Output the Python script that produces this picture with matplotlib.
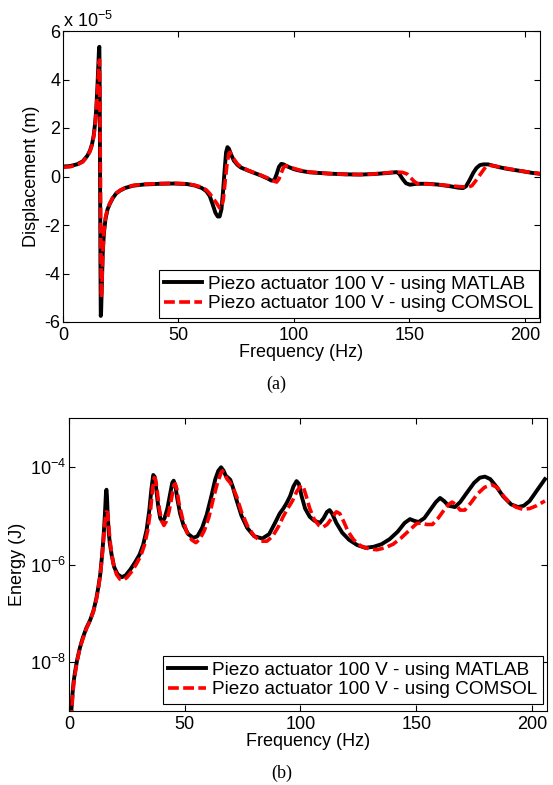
import numpy as np
import matplotlib
matplotlib.use('Agg')
import matplotlib.pyplot as plt
from matplotlib.ticker import FixedLocator, NullLocator

plt.rcParams['font.family'] = ['Liberation Sans', 'DejaVu Sans']
plt.rcParams['axes.unicode_minus'] = False
plt.rcParams['mathtext.default'] = 'regular'

# ---------------- data ----------------
# (a) displacement, in units of 1e-5 m
f_disp_matlab = [0, 3, 6, 8.5, 10.5, 11.7, 12.6, 13.3, 13.9, 14.4, 14.9, 15.3, 15.6, 15.75, 15.9,
                 16.05, 16.2, 16.35, 16.5, 16.8, 17.2, 17.7, 18.4, 19.3, 20.3, 21.5, 23, 24.7, 27,
                 30.3, 35, 42, 48, 53.6, 57, 60, 62, 63.5, 64.8, 66, 67, 67.8, 68.6, 69.3, 70.0,
                 70.6, 71.2, 71.8, 72.8, 74, 75.5, 77, 80, 83, 86, 88.5, 90.3, 91.5, 92.5, 93.5,
                 94.5, 95.5, 97, 100, 103, 107, 115, 122, 128.6, 134.3, 140, 144.4, 145.5, 147,
                 148.5, 150.2, 153, 157.4, 162, 167.5, 171, 173.2, 174.5, 176, 177.6, 179, 180.5,
                 182, 184, 186, 189, 192, 196, 200, 203, 206.5]
d_matlab = [0.41, 0.43, 0.5, 0.62, 0.85, 1.07, 1.35, 1.7, 2.2, 2.8, 3.7, 4.6, 5.3, 5.35, 3.5,
            0.0, -3.5, -5.75, -5.6, -4.5, -3.2, -2.35, -1.75, -1.35, -1.12, -0.9, -0.7, -0.58,
            -0.47, -0.38, -0.33, -0.3, -0.29, -0.31, -0.37, -0.47, -0.6, -0.8, -1.15, -1.5,
            -1.65, -1.65, -1.35, -0.6, 0.3, 1.0, 1.21, 1.15, 0.9, 0.65, 0.48, 0.37, 0.25, 0.14,
            0.03, -0.08, -0.17, -0.15, 0.1, 0.4, 0.52, 0.5, 0.42, 0.3, 0.23, 0.17, 0.12, 0.09,
            0.08, 0.1, 0.14, 0.18, 0.12, -0.1, -0.28, -0.34, -0.3, -0.3, -0.33, -0.4, -0.46,
            -0.48, -0.4, -0.15, 0.15, 0.35, 0.47, 0.5, 0.5, 0.45, 0.38, 0.32, 0.26, 0.2, 0.15,
            0.11]

f_disp_comsol = [0, 3, 6, 8.5, 10.5, 11.7, 12.6, 13.3, 13.9, 14.4, 14.9, 15.3, 15.6, 15.8, 16.0,
                 16.2, 16.4, 16.6, 16.8, 17.2, 17.7, 18.4, 19.3, 20.3, 21.5, 23, 24.7, 27, 30.3,
                 35, 42, 48, 53.6, 57, 60, 62, 63.5, 65, 66.5, 67.8, 68.6, 69.4, 70.2, 71, 71.8,
                 72.3, 73, 74, 75.5, 77, 80, 83, 86, 88.5, 90.3, 92.5, 93.5, 94.5, 95.5, 96.5, 98,
                 100, 103, 107, 115, 122, 128.6, 134.3, 140, 144.4, 147, 149, 150.5, 152, 153.5,
                 157.4, 162, 167.5, 172, 175.5, 177, 178.5, 180, 181.5, 183, 184.5, 187, 190, 194,
                 200, 203, 206.5]
d_comsol = [0.38, 0.4, 0.48, 0.6, 0.82, 1.04, 1.3, 1.65, 2.1, 2.7, 3.5, 4.2, 4.7, 4.8, 3.0, 0.0,
            -3.0, -5.0, -4.6, -3.2, -2.3, -1.7, -1.33, -1.1, -0.88, -0.69, -0.57, -0.46, -0.37,
            -0.32, -0.29, -0.28, -0.3, -0.36, -0.44, -0.55, -0.7, -0.9, -1.1, -1.3, -1.3, -0.95,
            -0.2, 0.5, 0.95, 1.0, 0.9, 0.72, 0.52, 0.4, 0.26, 0.15, 0.04, -0.06, -0.15, -0.23,
            -0.1, 0.15, 0.38, 0.44, 0.4, 0.33, 0.25, 0.18, 0.12, 0.09, 0.08, 0.1, 0.15, 0.18,
            0.17, 0.1, -0.05, -0.2, -0.3, -0.31, -0.33, -0.38, -0.42, -0.44, -0.38, -0.2, 0.0,
            0.2, 0.4, 0.47, 0.43, 0.37, 0.3, 0.2, 0.16, 0.12]

# (b) energy, J
f_en_matlab = [1.0, 1.5, 2.0, 2.6, 3.5, 4.75, 6, 7.5, 9.1, 10.5, 11.8, 12.7, 13.5, 14.2, 14.8,
               15.3, 15.7, 16.0, 16.2, 16.4, 16.7, 17.1, 17.6, 18.4, 19.5, 21, 22.8, 24.5, 26.5,
               28.5, 30.5, 32, 33.5, 34.7, 35.6, 36.4, 37.0, 37.7, 38.5, 39.4, 40.3, 41.3, 42.5,
               43.7, 44.6, 45.2, 45.9, 46.8, 48, 49.5, 51.5, 53.7, 55.5, 57.5, 59.5, 61.5, 63.2,
               64.5, 65.7, 66.8, 67.7, 68.7, 69.7, 70.8, 72.5, 74.5, 77, 80, 83.5, 86.5, 89, 91,
               92.6, 94, 95.5, 97, 98.3, 99.3, 100.5, 102, 104, 106, 108.4, 110, 111.5, 112.6,
               113.7, 115.5, 118, 121, 124.5, 128, 131.5, 135, 138.5, 142, 145, 147.3, 149, 151,
               153.5, 156, 158.5, 160.3, 162, 164, 166.7, 169, 172, 175, 177.5, 179.7, 182,
               184.5, 187.5, 191, 194, 196.5, 199, 202, 205.6]
e_matlab = [1.0e-9, 2.2e-9, 4.0e-9, 6.3e-9, 1.1e-8, 2.0e-8, 3.2e-8, 5.0e-8, 7.2e-8, 1.1e-7,
            2.0e-7, 3.5e-7, 6.3e-7, 1.4e-6, 3.1e-6, 7.1e-6, 1.6e-5, 3.2e-5, 3.4e-5, 2.5e-5,
            1.1e-5, 5.0e-6, 2.8e-6, 1.6e-6, 8.9e-7, 6.3e-7, 5.5e-7, 6.0e-7, 7.9e-7, 1.1e-6,
            1.6e-6, 2.5e-6, 5.0e-6, 1.3e-5, 3.5e-5, 6.8e-5, 6.3e-5, 3.5e-5, 1.6e-5, 8.9e-6,
            7.6e-6, 8.9e-6, 1.4e-5, 2.8e-5, 4.7e-5, 5.2e-5, 4.2e-5, 2.2e-5, 1.1e-5, 6.3e-6,
            4.2e-6, 3.5e-6, 3.8e-6, 5.6e-6, 1.05e-5, 2.5e-5, 5.6e-5, 8.3e-5, 9.8e-5, 8.3e-5,
            6.6e-5, 6.0e-5, 5.4e-5, 3.8e-5, 2.0e-5, 1.0e-5, 5.6e-6, 3.8e-6, 3.4e-6, 4.2e-6,
            7.1e-6, 1.1e-5, 1.4e-5, 1.8e-5, 2.5e-5, 4.0e-5, 5.1e-5, 4.5e-5, 2.5e-5, 1.4e-5,
            9.5e-6, 7.9e-6, 7.1e-6, 8.9e-6, 1.2e-5, 1.3e-5, 1.1e-5, 7.1e-6, 4.5e-6, 3.2e-6,
            2.5e-6, 2.2e-6, 2.3e-6, 2.6e-6, 3.3e-6, 4.7e-6, 7.1e-6, 8.5e-6, 7.9e-6, 7.4e-6,
            8.9e-6, 1.3e-5, 1.9e-5, 2.3e-5, 2.0e-5, 1.6e-5, 1.5e-5, 1.9e-5, 3.0e-5, 4.7e-5,
            6.0e-5, 6.3e-5, 5.6e-5, 4.0e-5, 2.5e-5, 1.7e-5, 1.5e-5, 1.6e-5, 2.0e-5, 3.2e-5,
            5.6e-5]

f_en_comsol = [1.0, 1.5, 2.0, 2.6, 3.5, 4.75, 6, 7.5, 9.1, 10.5, 11.8, 12.7, 13.5, 14.2, 14.8,
               15.3, 15.8, 16.2, 16.6, 17.0, 17.5, 18.2, 19.2, 20.5, 22, 23.4, 25, 27, 29, 31,
               32.6, 34, 35.2, 36.1, 36.8, 37.4, 38.1, 39, 40, 41, 42, 43.2, 44.4, 45.3, 45.9,
               46.6, 47.5, 49, 51, 53, 54.8, 56.5, 58.5, 60.5, 62.5, 64.3, 65.5, 66.3, 67.2,
               68.3, 69.5, 70.8, 72.5, 74.5, 77, 80, 83, 85.5, 88, 90.5, 92.5, 94.5, 96.5, 98.5,
               100.3, 101.3, 102.5, 104, 106, 108, 109.7, 111.5, 113.5, 115.5, 117, 118.5, 120.5,
               123, 126, 129.5, 133, 136.5, 140, 143.5, 147, 150.2, 152, 154.5, 157, 159.5, 162,
               164, 165.5, 167, 169, 171, 173.5, 176.5, 179.5, 182.5, 185, 187.5, 190, 193, 196,
               199, 202, 205.6]
e_comsol = [6.3e-10, 1.8e-9, 3.5e-9, 5.6e-9, 1.05e-8, 2.0e-8, 3.0e-8, 4.8e-8, 7.1e-8, 1.07e-7,
            1.9e-7, 3.3e-7, 6.0e-7, 1.26e-6, 2.8e-6, 5.6e-6, 1.0e-5, 1.2e-5, 1.17e-5, 7.9e-6,
            4.0e-6, 2.0e-6, 1.0e-6, 6.3e-7, 5.0e-7, 4.8e-7, 5.4e-7, 7.1e-7, 1.0e-6, 1.5e-6,
            2.5e-6, 5.0e-6, 1.26e-5, 3.5e-5, 6.0e-5, 5.6e-5, 3.2e-5, 1.4e-5, 7.9e-6, 6.3e-6,
            7.6e-6, 1.2e-5, 2.4e-5, 4.2e-5, 4.5e-5, 3.5e-5, 1.8e-5, 8.9e-6, 4.5e-6, 3.2e-6,
            2.8e-6, 3.3e-6, 5.0e-6, 9.5e-6, 2.4e-5, 5.0e-5, 7.1e-5, 8.3e-5, 7.1e-5, 5.6e-5,
            4.8e-5, 3.8e-5, 2.4e-5, 1.2e-5, 6.3e-6, 3.8e-6, 3.0e-6, 3.0e-6, 3.8e-6, 6.0e-6,
            9.5e-6, 1.4e-5, 2.0e-5, 3.2e-5, 4.2e-5, 3.8e-5, 2.5e-5, 1.4e-5, 8.3e-6, 6.3e-6,
            5.8e-6, 6.6e-6, 8.9e-6, 1.2e-5, 1.1e-5, 7.9e-6, 4.8e-6, 3.2e-6, 2.4e-6, 2.1e-6,
            2.0e-6, 2.2e-6, 2.6e-6, 3.5e-6, 5.0e-6, 6.9e-6, 7.1e-6, 6.6e-6, 6.6e-6, 8.9e-6,
            1.3e-5, 1.7e-5, 1.9e-5, 1.7e-5, 1.3e-5, 1.3e-5, 1.8e-5, 2.8e-5, 3.8e-5, 4.3e-5,
            3.8e-5, 2.6e-5, 1.9e-5, 1.5e-5, 1.35e-5, 1.4e-5, 1.6e-5, 2.0e-5]

lab_matlab = 'Piezo actuator 100 V - using MATLAB'
lab_comsol = 'Piezo actuator 100 V - using COMSOL'

# ---------------- plotting ----------------
fs = 13
W, H = 553, 785
fig = plt.figure(figsize=(W / 100, H / 100), dpi=100)
ax1 = fig.add_axes([63 / W, 1 - 322 / H, 477 / W, 291 / H])
ax2 = fig.add_axes([69 / W, 1 - 711 / H, 478 / W, 293 / H])

for ax in (ax1, ax2):
    ax.tick_params(direction='in', top=True, right=True, labelsize=fs, length=4, width=0.8, pad=2)
    ax.tick_params(axis='x', pad=3.5)
    for s in ax.spines.values():
        s.set_linewidth(0.8)

leg_kw = dict(fontsize=13.7, frameon=True, fancybox=False, framealpha=1, edgecolor='k',
              borderaxespad=0, handlelength=2.0, handletextpad=0.3, borderpad=0.3,
              labelspacing=0.1, loc='lower right')

ax1.plot(f_disp_matlab, d_matlab, color='k', lw=2.8, label=lab_matlab)
ax1.plot(f_disp_comsol, d_comsol, color='red', lw=2.6, dashes=(3, 1.2), label=lab_comsol)
ax1.set_xlim(0, 206.5)
ax1.set_ylim(-6, 6)
ax1.set_xticks([0, 50, 100, 150, 200])
ax1.set_yticks([-6, -4, -2, 0, 2, 4, 6])
ax1.set_xlabel('Frequency (Hz)', fontsize=fs, labelpad=0)
ax1.set_ylabel('Displacement (m)', fontsize=fs, labelpad=3)
ax1.text(0.0, 1.0, r'x 10$^{-5}$', transform=ax1.transAxes, fontsize=fs, ha='left', va='bottom')
lg1 = ax1.legend(bbox_to_anchor=(539 / W, 1 - 318 / H), bbox_transform=fig.transFigure, **leg_kw)
lg1.get_frame().set_linewidth(0.8)

ax2.plot(f_en_matlab, e_matlab, color='k', lw=2.8, label=lab_matlab)
ax2.plot(f_en_comsol, e_comsol, color='red', lw=2.6, dashes=(3, 1.2), label=lab_comsol)
ax2.set_yscale('log')
ax2.set_xlim(0, 206.5)
ax2.set_ylim(1e-9, 1e-3)
ax2.set_xticks([0, 50, 100, 150, 200])
ax2.yaxis.set_major_locator(FixedLocator([1e-8, 1e-6, 1e-4]))
ax2.yaxis.set_minor_locator(NullLocator())
ax2.set_yticklabels([r'10$^{-8}$', r'10$^{-6}$', r'10$^{-4}$'])
ax2.set_xlabel('Frequency (Hz)', fontsize=fs, labelpad=0)
ax2.set_ylabel('Energy (J)', fontsize=fs, labelpad=3)
lg2 = ax2.legend(bbox_to_anchor=(543 / W, 1 - 704 / H), bbox_transform=fig.transFigure, **leg_kw)
lg2.get_frame().set_linewidth(0.8)

fig.text(0.5, 1 - 384 / H, '(a)', fontsize=13, family='Liberation Serif', ha='center', va='center')
fig.text(0.51, 1 - 773 / H, '(b)', fontsize=13, family='Liberation Serif', ha='center', va='center')

fig.savefig('out.png', dpi=100)
